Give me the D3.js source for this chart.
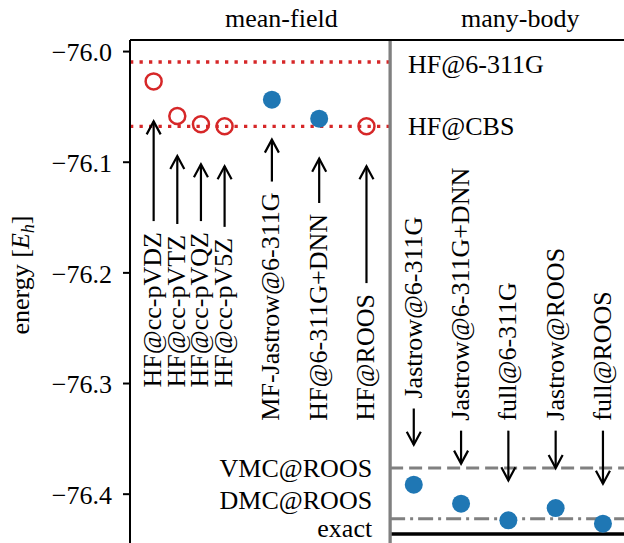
<!DOCTYPE html>
<html>
<head>
<meta charset="utf-8">
<script src="https://cdn.jsdelivr.net/npm/d3@7"></script>
<style>
  html, body { margin: 0; padding: 0; background: #fff; }
  svg { display: block; }
  text { font-family: "Liberation Serif", "Times New Roman", serif; fill: #000; }
</style>
</head>
<body>
<svg id="chart" width="624" height="543"></svg>
<script>
// ---------- data ----------
const mfLabels = ["HF@cc-pVDZ", "HF@cc-pVTZ", "HF@cc-pVQZ", "HF@cc-pV5Z", "MF-Jastrow@6-311G", "HF@6-311G+DNN", "HF@ROOS"];
const mfX = [0, 0.5, 1, 1.5, 2.5, 3.5, 4.5];
const mfEnergy = [-76.0274, -76.0587, -76.0662, -76.0680, -76.0439, -76.0611, -76.0680];
const mfFilled = [false, false, false, false, true, true, false];
const mfTextAnchorE = [-76.304, -76.304, -76.304, -76.304, -76.334, -76.334, -76.334];

const mbLabels = ["Jastrow@6-311G", "Jastrow@6-311G+DNN", "full@6-311G", "Jastrow@ROOS", "full@ROOS"];
const mbX = [5.5, 6.5, 7.5, 8.5, 9.5];
const mbEnergy = [-76.3919, -76.4090, -76.4241, -76.4130, -76.4271];
const mbTextAnchorE = [-76.314, -76.334, -76.334, -76.334, -76.334];

const refLabels = ["HF@6-311G", "HF@CBS"];
const refEnergy = [-76.0099, -76.0680];

const qmcLabels = ["VMC@ROOS", "DMC@ROOS", "exact"];
const qmcEnergy = [-76.3769, -76.4226, -76.4365];

const yTicks = [-76.0, -76.1, -76.2, -76.3, -76.4];
const sectionLabels = ["mean-field", "many-body"];
const sectionX = [2.7, 7.75];

// ---------- layout ----------
const svg = d3.select("#chart");
const FS = 26;
const red = "#d62728", blue = "#1f77b4", gray = "#808080";
const x = d3.scaleLinear().domain([-0.5, 10]).range([130, 626.6]);
const y = d3.scaleLinear().domain([-75.99, -76.45]).range([40, 549]);
const split = 5;

// reference dotted lines (mean-field side)
svg.selectAll("line.ref").data(refEnergy).join("line")
  .attr("x1", x(-0.5)).attr("x2", x(split))
  .attr("y1", d => y(d)).attr("y2", d => y(d))
  .attr("stroke", red).attr("stroke-width", 3.3)
  .attr("stroke-dasharray", "3.3,6.2");

// QMC reference lines (many-body side)
const qmcStyles = [
  {c: gray, w: 3, dash: "13,6"},
  {c: gray, w: 3, dash: "15,5,3,5"},
  {c: "#000", w: 3.5, dash: null}
];
svg.selectAll("line.qmc").data(qmcEnergy).join("line")
  .attr("x1", x(split)).attr("x2", x(10))
  .attr("y1", d => y(d)).attr("y2", d => y(d))
  .attr("stroke", (d, i) => qmcStyles[i].c)
  .attr("stroke-width", (d, i) => qmcStyles[i].w)
  .attr("stroke-dasharray", (d, i) => qmcStyles[i].dash);

// divider
svg.append("line")
  .attr("x1", x(split)).attr("x2", x(split))
  .attr("y1", y(-75.99)).attr("y2", 543)
  .attr("stroke", gray).attr("stroke-width", 3.3);

// frame (left + top spines)
svg.append("line").attr("x1", x(-0.5)).attr("x2", x(-0.5)).attr("y1", y(-75.99)).attr("y2", 543)
  .attr("stroke", "#000").attr("stroke-width", 2);
svg.append("line").attr("x1", x(-0.5)).attr("x2", x(10)).attr("y1", y(-75.99)).attr("y2", y(-75.99))
  .attr("stroke", "#000").attr("stroke-width", 2);

// y axis ticks
const yAxis = d3.axisLeft(y).tickValues(yTicks).tickSize(7).tickPadding(11)
  .tickFormat(d => d3.format(".1f")(d).replace("-", "\u2212"));
const gy = svg.append("g").attr("transform", `translate(${x(-0.5)},0)`).call(yAxis);
gy.select(".domain").remove();
gy.selectAll(".tick line").attr("stroke", "#000").attr("stroke-width", 2);
gy.selectAll(".tick text").attr("font-size", FS).attr("font-family", "Liberation Serif").attr("fill", "#000").attr("dy", "0.38em");

// y label
const yl = svg.append("text").attr("transform", "translate(29,275) rotate(-90)")
  .attr("text-anchor", "middle").attr("font-size", FS);
yl.append("tspan").text("energy [");
yl.append("tspan").attr("font-style", "italic").text("E");
yl.append("tspan").attr("font-style", "italic").attr("font-size", FS * 0.7).attr("dy", 5).text("h");
yl.append("tspan").attr("dy", -5).text("]");

// section labels
svg.selectAll("text.sec").data(sectionLabels).join("text")
  .attr("x", (d, i) => x(sectionX[i])).attr("y", 26.7)
  .attr("text-anchor", "middle").attr("font-size", FS).text(d => d);

// ref labels
svg.selectAll("text.refl").data(refLabels).join("text")
  .attr("x", x(5.38)).attr("y", (d, i) => y(refEnergy[i]))
  .attr("dy", (d, i) => i === 0 ? 11 : 9)
  .attr("font-size", FS).text(d => d);

// qmc labels
const qmcDy = [8.5, -9.5, 3];
svg.selectAll("text.qmcl").data(qmcLabels).join("text")
  .attr("x", x(4.62)).attr("y", (d, i) => y(qmcEnergy[i]))
  .attr("dy", (d, i) => qmcDy[i])
  .attr("text-anchor", "end").attr("font-size", FS).text(d => d);

// arrow helper
function arrow(g, xp, tail, tip) {
  const dir = tip < tail ? 1 : -1; // head opens toward tail
  g.append("line").attr("x1", xp).attr("x2", xp).attr("y1", tail).attr("y2", tip)
    .attr("stroke", "#000").attr("stroke-width", 2.2);
  g.append("path")
    .attr("d", `M${xp - 7},${tip + dir * 13} L${xp},${tip} L${xp + 7},${tip + dir * 13}`)
    .attr("fill", "none").attr("stroke", "#000").attr("stroke-width", 2.2);
}

const annG = svg.append("g");
// mean-field annotations
mfLabels.forEach((lab, i) => {
  const xp = x(mfX[i]);
  const bottom = y(mfTextAnchorE[i]);
  const t = annG.append("text")
    .attr("transform", `translate(${xp + 7.5},${bottom}) rotate(-90)`)
    .attr("font-size", FS).text(lab);
  const len = t.node().getComputedTextLength();
  arrow(annG, xp, bottom - len - 11, y(mfEnergy[i]) + 40);
});
// many-body annotations
mbLabels.forEach((lab, i) => {
  const xp = x(mbX[i]);
  const bottom = y(mbTextAnchorE[i]);
  annG.append("text")
    .attr("transform", `translate(${xp + 8},${bottom}) rotate(-90)`)
    .attr("font-size", FS).text(lab);
  arrow(annG, xp, bottom + 10, y(mbEnergy[i]) - 40);
});

// points
svg.selectAll("circle.mf").data(mfEnergy).join("circle")
  .attr("cx", (d, i) => x(mfX[i])).attr("cy", d => y(d))
  .attr("r", (d, i) => mfFilled[i] ? 9 : 8)
  .attr("fill", (d, i) => mfFilled[i] ? blue : "none")
  .attr("stroke", (d, i) => mfFilled[i] ? "none" : red)
  .attr("stroke-width", 2.5);
svg.selectAll("circle.mb").data(mbEnergy).join("circle")
  .attr("cx", (d, i) => x(mbX[i])).attr("cy", d => y(d))
  .attr("r", 9).attr("fill", blue);
</script>
</body>
</html>
